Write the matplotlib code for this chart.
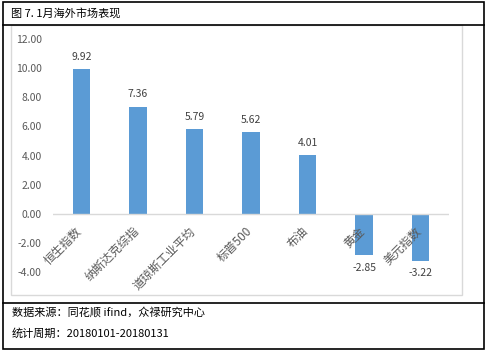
import matplotlib
matplotlib.use("Agg")
import matplotlib.pyplot as plt
from matplotlib.patches import Rectangle
from matplotlib.lines import Line2D

plt.rcParams['font.family'] = ['Noto Sans CJK SC', 'DejaVu Sans']

# data
names = ["恒生指数", "纳斯达克综指", "道琼斯工业平均", "标普500", "布油", "黄金", "美元指数"]
values = [9.92, 7.36, 5.79, 5.62, 4.01, -2.85, -3.22]
yticks = [-4, -2, 0, 2, 4, 6, 8, 10, 12]

W, H = 489, 352
fig = plt.figure(figsize=(W / 100, H / 100), dpi=100)

def fx(px):
    return px / W

def fy(py):
    return 1 - py / H

# frames
fig.add_artist(Rectangle((fx(3), fy(349)), fx(484) - fx(3), fy(2) - fy(349),
                         transform=fig.transFigure, fill=False, ec="black", lw=1.2))
fig.add_artist(Rectangle((fx(11), fy(295)), fx(462) - fx(11), fy(25) - fy(295),
                         transform=fig.transFigure, fill=False, ec="#D9D9D9", lw=1))
for py in (25, 303):
    fig.add_artist(Line2D([fx(3), fx(484)], [fy(py), fy(py)],
                          transform=fig.transFigure, color="black", lw=1.2))

fig.text(fx(11), fy(13), "图 7. 1月海外市场表现", fontsize=8, va="center", ha="left")
fig.text(fx(12), fy(312), "数据来源：同花顺 ifind，众禄研究中心", fontsize=8, va="center", ha="left")
fig.text(fx(12), fy(333), "统计周期：20180101-20180131", fontsize=8, va="center", ha="left")

ax = fig.add_axes([fx(53), fy(272), fx(449) - fx(53), fy(39) - fy(272)])
x = list(range(len(values)))
ax.bar(x, values, width=0.31, color="#5B9BD5")
ax.set_xlim(-0.5, len(values) - 0.5)
ax.set_ylim(-4, 12)
ax.set_yticks(yticks)
ax.set_yticklabels([f"{v:.2f}" for v in yticks], fontsize=7.5, color="#595959")
ax.tick_params(axis="y", length=0, pad=8)
ax.set_xticks([])
for s in ax.spines.values():
    s.set_visible(False)
ax.axhline(0, color="#D9D9D9", lw=1)

for i, v in enumerate(values):
    if v >= 0:
        ax.text(i, v + 0.5, f"{v:.2f}", ha="center", va="bottom", fontsize=7.5, color="#404040")
    else:
        ax.text(i, v - 0.5, f"{v:.2f}", ha="center", va="top", fontsize=7.5, color="#404040")
    ax.text(i + 0.06, -0.75, names[i], rotation=45, ha="right", va="top",
            fontsize=8.5, color="#595959", rotation_mode="default")

fig.savefig("out.png", dpi=100)
